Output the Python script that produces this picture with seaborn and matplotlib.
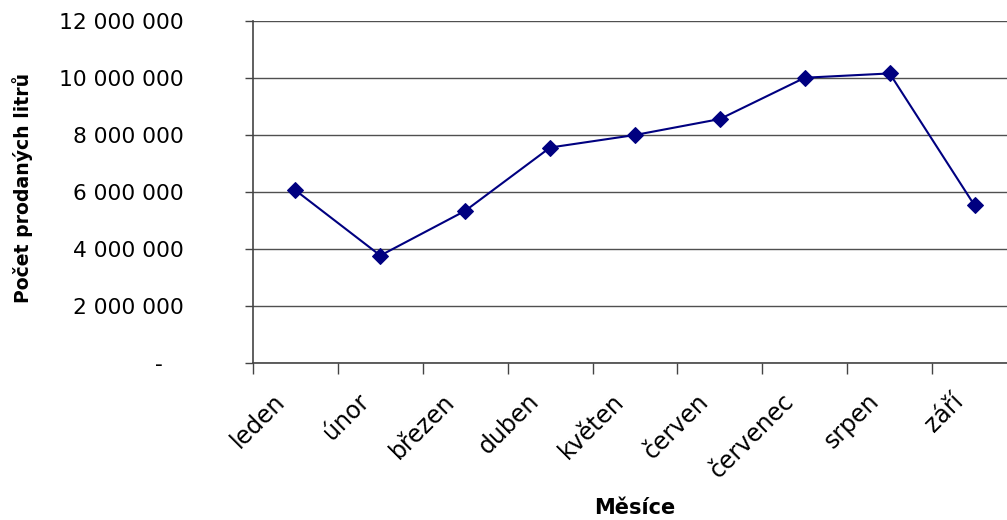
import matplotlib
matplotlib.use("Agg")
import matplotlib.pyplot as plt
import matplotlib.ticker as mticker
import matplotlib.transforms as mtransforms
import seaborn as sns
import pandas as pd
import numpy as np

# Monthly fuel sales (litres)
months = ["leden", "únor", "březen", "duben", "květen", "červen", "červenec", "srpen", "září"]
litres = [6060000, 3770000, 5340000, 7560000, 8000000, 8560000, 10010000, 10160000, 5530000]

y_ticks = [0, 2000000, 4000000, 6000000, 8000000, 10000000, 12000000]

df = pd.DataFrame({"Měsíce": months, "Litry": litres})

sns.set_theme(style="white")
plt.rcParams["font.family"] = ["DejaVu Sans"]

fig = plt.figure(figsize=(10.07, 5.20), dpi=100)
fig.patch.set_facecolor("white")
ax = fig.add_axes([253 / 1007, 157 / 520, 764 / 1007, 342 / 520])
ax.set_facecolor("white")

ax.set_axisbelow(True)
ax.grid(axis="y", color="#505050", linewidth=1.0)

sns.lineplot(data=df, x="Měsíce", y="Litry", sort=False, ax=ax,
             color="#000080", linewidth=1.5, marker="D", markersize=8.5,
             markeredgecolor="#000080", markerfacecolor="#000080")

ax.set_xlim(-0.5, len(months) - 0.5)
ax.set_ylim(y_ticks[0], y_ticks[-1])
ax.set_yticks(y_ticks)


def fmt(v, pos):
    if v == 0:
        return "-   "
    return f"{int(v):,}".replace(",", " ")


ax.yaxis.set_major_formatter(mticker.FuncFormatter(fmt))

# category labels centred, tick marks on category boundaries
ax.set_xticks(range(len(months)))
ax.set_xticklabels(months, rotation=45, ha="right", va="top",
                   rotation_mode="anchor")
ax.set_xticks(np.arange(-0.5, len(months) + 0.5, 1.0), minor=True)
ax.tick_params(axis="x", which="major", length=0, pad=19, labelsize=17,
               labelcolor="black")
ax.tick_params(axis="x", which="minor", length=8, width=1.0, color="#444444",
               direction="out", bottom=True)
ax.tick_params(axis="y", which="major", length=6, width=1.0, color="#444444",
               direction="out", left=True, pad=44, labelsize=15.7,
               labelcolor="black")

# nudge the slanted month names so their ends sit left of the category centre
shift = mtransforms.ScaledTranslation(-23 / 100, 0, fig.dpi_scale_trans)
for lbl in ax.get_xticklabels():
    lbl.set_transform(lbl.get_transform() + shift)

for side in ["top", "right"]:
    ax.spines[side].set_visible(False)
for side in ["left", "bottom"]:
    ax.spines[side].set_color("#444444")
    ax.spines[side].set_linewidth(1.2)

ax.set_ylabel("Počet prodaných litrů", fontsize=13.6, fontweight="bold",
              color="black")
ax.yaxis.set_label_coords(-0.288, 0.513)
ax.set_xlabel("Měsíce", fontsize=15, fontweight="bold", va="center",
              color="black")
ax.xaxis.set_label_coords(0.5, -0.424)

fig.savefig("out.png", dpi=100, facecolor="white")
